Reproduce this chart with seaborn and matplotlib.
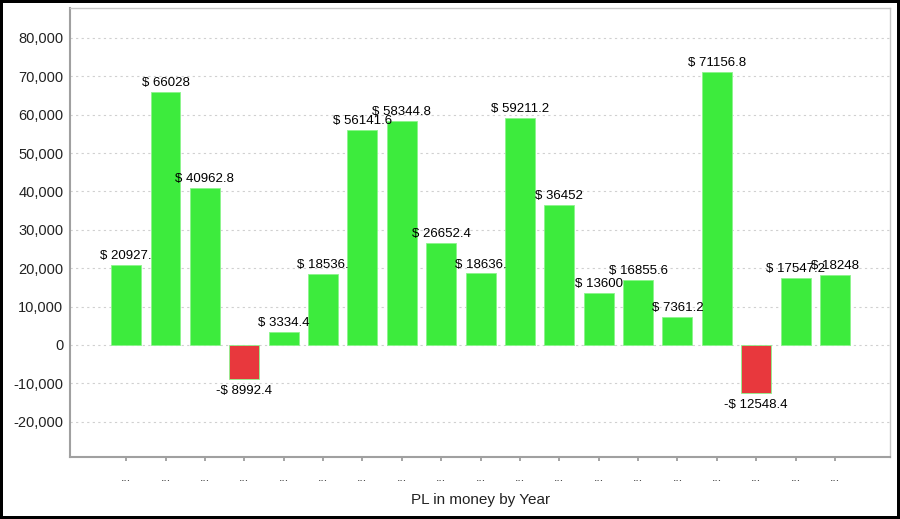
import pandas as pd
import seaborn as sns
import matplotlib.pyplot as plt
from matplotlib.ticker import FuncFormatter

values = [20927.2, 66028, 40962.8, -8992.4, 3334.4, 18536.4, 56141.6, 58344.8, 26652.4,
          18636.4, 59211.2, 36452, 13600, 16855.6, 7361.2, 71156.8, -12548.4, 17547.2, 18248]
bar_labels = ['$ 20927.', '$ 66028', '$ 40962.8', '-$ 8992.4', '$ 3334.4', '$ 18536.',
              '$ 56141.6', '$ 58344.8', '$ 26652.4', '$ 18636.', '$ 59211.2', '$ 36452',
              '$ 13600', '$ 16855.6', '$ 7361.2', '$ 71156.8', '-$ 12548.4', '$ 17547.2', '$ 18248']
tick_labels = ['...'] * len(values)

df = pd.DataFrame({'idx': range(len(values)), 'PL': values})
df['sign'] = ['gain' if v >= 0 else 'loss' for v in values]

sns.set_theme(style='white')
plt.rcParams['font.family'] = ['Liberation Sans', 'DejaVu Sans']

fig = plt.figure(figsize=(9, 5.19), dpi=100)
fig.patch.set_edgecolor('black')
fig.patch.set_linewidth(3)
ax = fig.add_axes([0.078, 0.1195, 0.911, 0.865])

sns.barplot(data=df, x='idx', y='PL', hue='sign', dodge=False, width=0.76,
            palette={'gain': '#3deb3d', 'loss': '#e8383d'}, saturation=1, legend=False,
            edgecolor='#8cf58c', linewidth=0.6, ax=ax)

for i, (v, lab) in enumerate(zip(values, bar_labels)):
    if v >= 0:
        ax.annotate(lab, (i, v), xytext=(0, 2), textcoords='offset points',
                    ha='center', va='bottom', fontsize=9.5, color='black')
    else:
        ax.annotate(lab, (i, v), xytext=(0, -4), textcoords='offset points',
                    ha='center', va='top', fontsize=9.5, color='black')

ax.set_xlim(-1.42, len(values) - 1 + 1.4)
ax.set_ylim(-29200, 87800)
ax.set_yticks(range(-20000, 80001, 10000))
ax.yaxis.set_major_formatter(FuncFormatter(lambda y, p: f'{int(y):,}'))
ax.set_xticks(range(len(values)))
ax.set_xticklabels(tick_labels, fontsize=9, color='#333333')
ax.tick_params(axis='y', labelsize=10.5, length=0, pad=5, labelcolor='#222222')
ax.tick_params(axis='x', length=3, color='#999999', pad=8, bottom=True)
ax.yaxis.grid(True, linestyle=(0, (2, 3)), color='#d0d0d0', linewidth=0.8)
ax.set_axisbelow(True)

for s in ['top', 'right']:
    ax.spines[s].set_color('#c8c8c8')
    ax.spines[s].set_linewidth(1)
for s in ['left', 'bottom']:
    ax.spines[s].set_color('#a0a0a0')
    ax.spines[s].set_linewidth(1.5)

ax.set_xlabel('PL in money by Year', fontsize=11, labelpad=6, color='#222222')
ax.set_ylabel('')

fig.savefig('out.png', dpi=100)
